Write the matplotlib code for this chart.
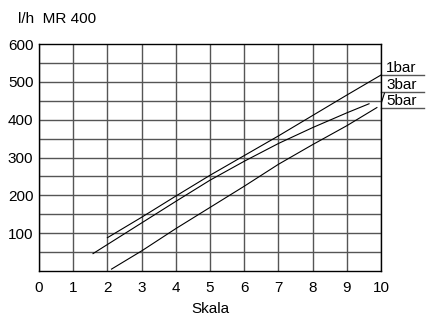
import matplotlib.pyplot as plt

plt.rcParams['font.family'] = ['Liberation Sans', 'DejaVu Sans']

# flow curves (Skala -> l/h)
x_1bar = [2.0, 3, 4, 5, 6, 7, 8, 9, 10]
y_1bar = [88, 142, 198, 253, 305, 357, 411, 465, 518]

x_3bar = [1.58, 2, 3, 4, 5, 6, 7, 8, 9, 9.65]
y_3bar = [46, 70, 127, 184, 240, 290, 337, 379, 418, 442]

x_5bar = [2.12, 3, 4, 5, 6, 7, 8, 9, 9.88]
y_5bar = [5, 53, 112, 168, 224, 282, 334, 384, 432]

labels = ["1bar", "3bar", "5bar"]
label_levels = [518, 474, 430]

xticks = list(range(0, 11))
yticks = [100, 200, 300, 400, 500, 600]

fig = plt.figure(figsize=(4.29, 3.2), dpi=100)
ax = fig.add_axes([39 / 429, 49 / 320, 342 / 429, 227 / 320])

grid_color = "#555555"
for xv in xticks:
    ax.axvline(xv, color=grid_color, lw=1.0, zorder=1)
for yv in range(50, 600, 50):
    ax.axhline(yv, color=grid_color, lw=1.0, zorder=1)

for xs, ys in [(x_1bar, y_1bar), (x_3bar, y_3bar), (x_5bar, y_5bar)]:
    ax.plot(xs, ys, color="black", lw=0.8, zorder=3)

# labels on the right, each sitting on a short rule
for lab, lev in zip(labels, label_levels):
    ax.plot([10, 11.25], [lev, lev], color=grid_color, lw=1.0, clip_on=False)
    ax.text(10.15, lev + 8, lab, fontsize=11, ha="left", va="baseline")
ax.plot([10.02, 10.1], [447, 470], color="black", lw=0.8, clip_on=False)

ax.set_xlim(0, 10)
ax.set_ylim(0, 600)
ax.set_xticks(xticks)
ax.set_yticks(yticks)
ax.tick_params(length=0, labelsize=11)
ax.tick_params(axis="y", pad=4)
ax.tick_params(axis="x", pad=7)
for sp in ax.spines.values():
    sp.set_color("black")
    sp.set_linewidth(1.0)

ax.set_xlabel("Skala", fontsize=11, labelpad=5)
fig.text(18 / 429, 1 - 19 / 320, "l/h  MR 400", fontsize=11, va="center")

fig.savefig("out.png", dpi=100)
